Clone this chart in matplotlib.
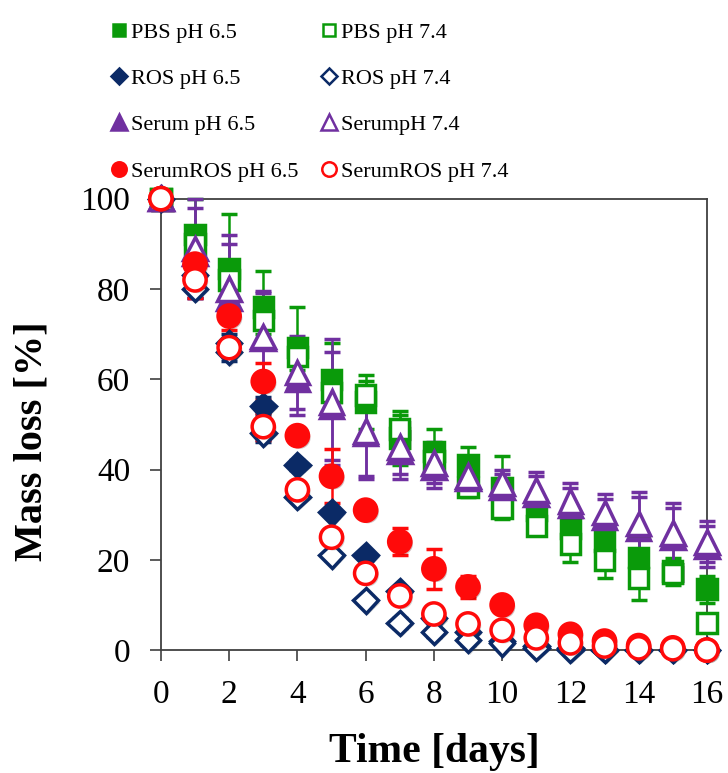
import matplotlib
matplotlib.use("Agg")
import matplotlib.pyplot as plt
import matplotlib.patheffects as pe
from matplotlib.lines import Line2D

plt.rcParams['font.family'] = ['Liberation Serif', 'DejaVu Serif']

days = list(range(17))

pbs_65 = [100, 92, 84.5, 76, 67, 60, 55, 47, 44, 41, 36, 31, 27, 24, 20.5, 17.5, 13.5]
pbs_65_err = [0, 8, 12, 8, 9, 8, 6, 6, 5, 4, 7, 3, 4, 4, 5, 3, 3]
pbs_74 = [100, 90, 82, 73, 65, 57, 56.5, 49, 42, 36, 31.5, 27.5, 23.5, 20, 16, 17, 6]
pbs_74_err = [0, 3, 3, 3, 3, 3, 3, 3, 2, 2, 2, 2, 4, 4, 5, 2, 2]
ros_65 = [100, 83, 68, 54, 41, 30.5, 21, 13, 7, 4, 2, 1, 0.5, 0, 0, 0, 0]
ros_65_err = [0, 2, 2, 2, 1, 1, 1, 1, 1, 1, 1, 0.5, 0.5, 0.5, 0, 0, 0]
ros_74 = [100, 80, 66, 48, 34, 21, 11, 6, 4, 2.2, 1.5, 0.5, 0, 0, 0, 0, 0]
ros_74_err = [0, 2, 2, 2, 1, 1, 1, 1, 1, 1, 1, 0.5, 0.5, 0.5, 0, 0, 0]
serum_65 = [100, 88, 78, 69, 60, 54, 48, 44, 40.5, 38, 36, 34.5, 32, 29.5, 27, 25, 23]
serum_65_err = [0, 10, 12, 10, 8, 12, 10, 6, 4.5, 3, 3, 4, 4, 4, 7, 6.5, 4.5]
serum_74 = [100, 89, 80, 69.5, 61.5, 55, 48.5, 45, 41.5, 38.5, 37, 35.5, 33, 30.5, 28, 26, 24]
serum_74_err = [0, 11, 12, 10, 8, 14, 10, 6, 4.5, 3, 3, 4, 4, 4, 7, 6.5, 4.5]
sros_65 = [100, 85.5, 74, 59.5, 47.5, 38.5, 31, 24, 18, 14, 10, 5.5, 3.5, 2, 1, 0.5, 0]
sros_65_err = [0, 3, 3, 4, 1, 6, 1, 3, 4.5, 2.5, 1, 1, 1, 0.5, 0.5, 0, 0]
sros_74 = [100, 82, 67, 49.5, 35.5, 25, 17, 12, 8, 5.8, 4.4, 2.7, 1.6, 0.9, 0.5, 0.3, 0]
sros_74_err = [0, 4, 2, 3, 1, 1, 1, 1, 1, 1, 1, 0.5, 0.5, 0.5, 0, 0, 0]

GREEN = '#0A9A0A'
NAVY = '#0B2A66'
PURPLE = '#7030A0'
RED = '#FF0A0A'

series = [
    ('PBS pH 6.5', pbs_65, pbs_65_err, 's', GREEN, True, 14),
    ('PBS pH 7.4', pbs_74, pbs_74_err, 's', GREEN, False, 14),
    ('ROS pH 6.5', ros_65, ros_65_err, 'D', NAVY, True, 12.5),
    ('ROS pH 7.4', ros_74, ros_74_err, 'D', NAVY, False, 12.5),
    ('Serum pH 6.5', serum_65, serum_65_err, '^', PURPLE, True, 17),
    ('SerumpH 7.4', serum_74, serum_74_err, '^', PURPLE, False, 17),
    ('SerumROS pH 6.5', sros_65, sros_65_err, 'o', RED, True, 16),
    ('SerumROS pH 7.4', sros_74, sros_74_err, 'o', RED, False, 16),
]

fig = plt.figure(figsize=(7.28, 7.73), dpi=100)
ax = fig.add_axes([0.221, 0.159, 0.750, 0.584])

shadow = [pe.SimplePatchShadow(offset=(1.5, -1.5), alpha=0.25), pe.Normal()]

for label, vals, err, mk, col, filled, ms in series:
    lines = ax.errorbar(days, vals, yerr=err, fmt=mk, color=col, ecolor=col,
                        markersize=ms, markeredgewidth=2.5,
                        markerfacecolor=col if filled else 'white',
                        markeredgecolor=col, elinewidth=1.8, capsize=5.5,
                        capthick=1.8, clip_on=False, zorder=3)
    lines[0].set_path_effects(shadow)
    for c in lines[1]:
        c.set_clip_on(False)
    for b in lines[2]:
        b.set_clip_on(False)

ax.set_xlim(0, 16)
ax.set_ylim(0, 100)
ax.set_xticks(range(0, 17, 2))
ax.set_yticks(range(0, 101, 20))
ax.tick_params(axis='both', direction='out', length=8, width=1.2,
               labelsize=24, color='#404040')
ax.tick_params(axis='y', pad=14)
ax.tick_params(axis='x', pad=13)
for s in ax.spines.values():
    s.set_color('#404040')
    s.set_linewidth(1.3)

ax.set_xlabel('Time [days]', fontsize=30, fontweight='bold')
ax.set_ylabel('Mass loss [%]', fontsize=29, fontweight='bold')
ax.xaxis.set_label_coords(0.5, -0.226)
ax.xaxis.label.set_va('center')
ax.yaxis.set_label_coords(-0.236, 0.463)
ax.yaxis.label.set_va('center')

handles = []
labels = []
order = [0, 2, 4, 6, 1, 3, 5, 7]
for i in order:
    label, vals, err, mk, col, filled, ms = series[i]
    handles.append(Line2D([], [], linestyle='none', marker=mk, color=col,
                          markersize=ms * 0.65, markeredgewidth=1.8,
                          markerfacecolor=col if filled else 'white',
                          markeredgecolor=col))
    labels.append(label)

fig.legend(handles, labels, ncol=2, loc='upper left',
           bbox_to_anchor=(0.136, 0.983), frameon=False, fontsize=16,
           handletextpad=0.05, columnspacing=0.85, labelspacing=1.16,
           handlelength=1.0, borderaxespad=0)

fig.savefig('out.png', dpi=100)
